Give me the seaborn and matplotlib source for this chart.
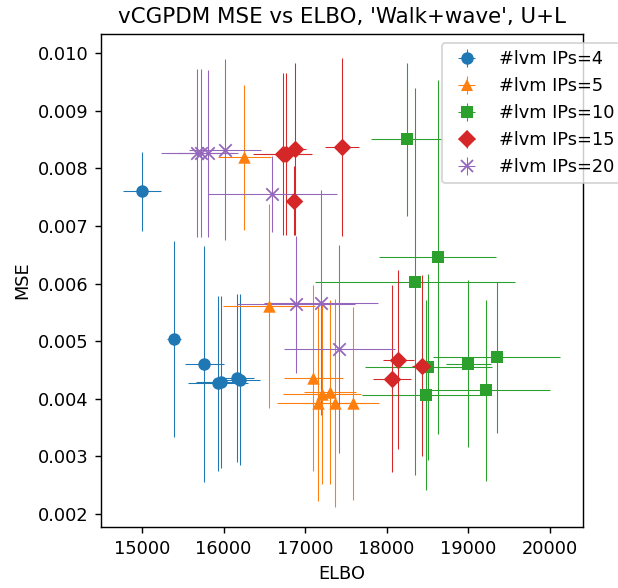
import matplotlib
matplotlib.use("Agg")
import matplotlib.pyplot as plt
from matplotlib.lines import Line2D
import seaborn as sns
import pandas as pd

# values
groups = ["#lvm IPs=4", "#lvm IPs=5", "#lvm IPs=10", "#lvm IPs=15", "#lvm IPs=20"]

elbo_4 = [15000, 15396, 15761, 15936, 15966, 16168, 16202]
mse_4 = [0.00760, 0.00504, 0.00460, 0.00427, 0.00429, 0.00436, 0.00433]
elbo_err_4 = [235, 85, 240, 370, 300, 200, 250]
mse_err_4 = [0.00068, 0.00170, 0.00205, 0.00152, 0.00149, 0.00145, 0.00148]

elbo_5 = [16254, 16558, 17102, 17212, 17307, 17156, 17368, 17593]
mse_5 = [0.00819, 0.00561, 0.00436, 0.00408, 0.00412, 0.00392, 0.00393, 0.00392]
elbo_err_5 = [327, 568, 360, 480, 320, 495, 400, 315]
mse_err_5 = [0.00126, 0.00177, 0.00161, 0.00156, 0.00159, 0.00169, 0.00180, 0.00167]

elbo_10 = [18252, 18628, 18350, 18513, 18485, 19004, 19352, 19221]
mse_10 = [0.00850, 0.00646, 0.00603, 0.00455, 0.00406, 0.00461, 0.00472, 0.00415]
elbo_err_10 = [446, 720, 1223, 777, 785, 276, 781, 790]
mse_err_10 = [0.00133, 0.00307, 0.00336, 0.00161, 0.00165, 0.00145, 0.00131, 0.00157]

elbo_15 = [16726, 16770, 16882, 16865, 17454, 18145, 18063, 18439]
mse_15 = [0.00825, 0.00825, 0.00833, 0.00744, 0.00837, 0.00468, 0.00435, 0.00457]
elbo_err_15 = [360, 300, 135, 60, 210, 192, 235, 125]
mse_err_15 = [0.00140, 0.00140, 0.00149, 0.00060, 0.00155, 0.00155, 0.00162, 0.00157]

elbo_20 = [15675, 15724, 15806, 16018, 16599, 16890, 17196, 17421]
mse_20 = [0.00827, 0.00827, 0.00826, 0.00832, 0.00756, 0.00564, 0.00567, 0.00486]
elbo_err_20 = [445, 413, 376, 438, 791, 728, 703, 681]
mse_err_20 = [0.00146, 0.00146, 0.00145, 0.00157, 0.00066, 0.00119, 0.00195, 0.00180]

frames = []
for g, e, m, ee, me in zip(
    groups,
    [elbo_4, elbo_5, elbo_10, elbo_15, elbo_20],
    [mse_4, mse_5, mse_10, mse_15, mse_20],
    [elbo_err_4, elbo_err_5, elbo_err_10, elbo_err_15, elbo_err_20],
    [mse_err_4, mse_err_5, mse_err_10, mse_err_15, mse_err_20],
):
    frames.append(pd.DataFrame({"group": g, "elbo": e, "mse": m, "elbo_err": ee, "mse_err": me}))
df = pd.concat(frames, ignore_index=True)

sns.set_style("ticks", {"axes.edgecolor": "black", "text.color": "black",
                        "axes.labelcolor": "black", "xtick.color": "black",
                        "ytick.color": "black"})
plt.rcParams["font.family"] = ["DejaVu Sans"]

colors = sns.color_palette("tab10", 5)
markers = ["o", "^", "s", "D", "x"]

fig = plt.figure(figsize=(618 / 128, 588 / 128), dpi=128)
ax = fig.add_axes([0.1639, 0.1032, 0.7790, 0.8390])

handles = []
for g, c, mk in zip(groups, colors, markers):
    sub = df[df["group"] == g]
    bars = ax.errorbar(sub["elbo"], sub["mse"], xerr=sub["elbo_err"], yerr=sub["mse_err"],
                       fmt="none", ecolor=c, elinewidth=0.6, zorder=2)
    if mk == "x":
        sns.scatterplot(data=sub, x="elbo", y="mse", marker=mk, color=c, s=49,
                        linewidth=1.0, ax=ax, zorder=3, legend=False)
    else:
        sns.scatterplot(data=sub, x="elbo", y="mse", marker=mk, color=c, s=49,
                        linewidth=0, ax=ax, zorder=3, legend=False)
    proxy = Line2D([], [], marker=mk, color=c, ls="", ms=7, mew=1.0 if mk == "x" else 0)
    handles.append((bars, proxy))

ax.set_xlim(14500, 20407)
ax.set_ylim(0.00177, 0.01033)
ax.set_xticks([15000, 16000, 17000, 18000, 19000, 20000])
ax.set_yticks([0.002, 0.003, 0.004, 0.005, 0.006, 0.007, 0.008, 0.009, 0.010])
ax.set_title("vCGPDM MSE vs ELBO, 'Walk+wave', U+L")
ax.set_xlabel("ELBO")
ax.set_ylabel("MSE")
for s in ax.spines.values():
    s.set_linewidth(0.8)

ax.legend(handles, groups, loc="upper left", bbox_to_anchor=(441.7 / 618, 1 - 43.3 / 588),
          bbox_transform=fig.transFigure, borderaxespad=0, framealpha=0.8)

fig.savefig("out.png", dpi=128)
